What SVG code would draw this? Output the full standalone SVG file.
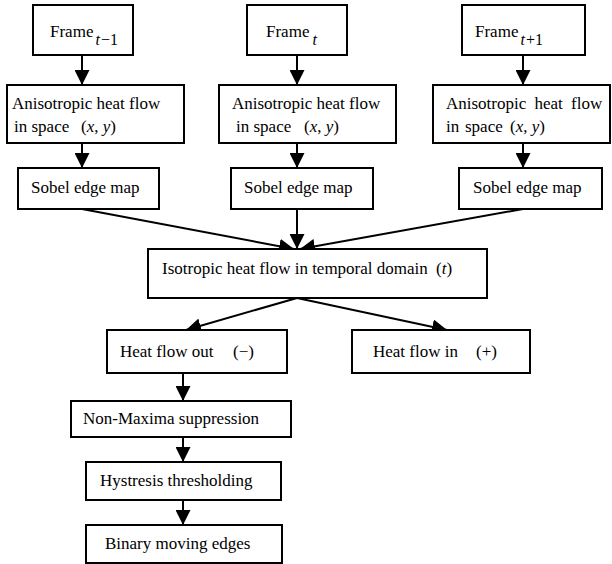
<svg xmlns="http://www.w3.org/2000/svg" width="612" height="564" viewBox="0 0 612 564">
  <style>
    .box { fill: #ffffff; stroke: #000000; stroke-width: 2; }
    .lbl { font-family: "Liberation Serif", "Times New Roman", serif; font-size: 17px; fill: #000000; }
    .it { font-style: italic; }
    .sub { font-size: 16px; }
    .edge { stroke: #000000; stroke-width: 2; fill: none; marker-end: url(#head); }
  </style>
  <defs>
    <marker id="head" markerUnits="userSpaceOnUse" markerWidth="15" markerHeight="15" refX="15" refY="7.5" orient="auto">
      <path d="M0,0 L15,7.5 L0,15 Z" fill="#000000"/>
    </marker>
  </defs>

  <rect width="612" height="564" fill="#ffffff"/>

  <!-- connectors -->
  <g id="connectors">
    <line class="edge" x1="82" y1="55" x2="82" y2="85"/>
    <line class="edge" x1="297" y1="55" x2="297" y2="85"/>
    <line class="edge" x1="523" y1="55" x2="523" y2="85"/>
    <line class="edge" x1="82" y1="143" x2="82" y2="168"/>
    <line class="edge" x1="297" y1="143" x2="297" y2="168"/>
    <line class="edge" x1="523" y1="143" x2="523" y2="168"/>
    <line class="edge" x1="82" y1="209" x2="294" y2="249"/>
    <line class="edge" x1="297" y1="209" x2="297" y2="249"/>
    <line class="edge" x1="523" y1="209" x2="300" y2="249"/>
    <line class="edge" x1="297" y1="298" x2="186" y2="330"/>
    <line class="edge" x1="297" y1="298" x2="447" y2="330"/>
    <line class="edge" x1="183" y1="373" x2="183" y2="401"/>
    <line class="edge" x1="183" y1="437" x2="183" y2="462"/>
    <line class="edge" x1="183" y1="500" x2="183" y2="525"/>
  </g>

  <!-- input frames -->
  <g id="frame-prev">
    <rect class="box" x="33" y="5" width="100" height="50"/>
    <text class="lbl" x="50" y="37">Frame<tspan class="sub it" dy="8" dx="2">t</tspan><tspan class="sub" dx="1">−1</tspan></text>
  </g>
  <g id="frame-cur">
    <rect class="box" x="247" y="5" width="100" height="50"/>
    <text class="lbl" x="266" y="37">Frame<tspan class="sub it" dy="8" dx="3">t</tspan></text>
  </g>
  <g id="frame-next">
    <rect class="box" x="462" y="5" width="123" height="50"/>
    <text class="lbl" x="475" y="37">Frame<tspan class="sub it" dy="8" dx="2">t</tspan><tspan class="sub" dx="1">+1</tspan></text>
  </g>

  <!-- spatial diffusion -->
  <g id="aniso-prev">
    <rect class="box" x="7" y="85" width="177" height="58"/>
    <text class="lbl" x="12" y="109">Anisotropic heat flow</text>
    <text class="lbl" x="14" y="132">in space<tspan x="81">(</tspan><tspan class="it">x</tspan>, <tspan class="it">y</tspan>)</text>
  </g>
  <g id="aniso-cur">
    <rect class="box" x="219" y="85" width="177" height="58"/>
    <text class="lbl" x="232" y="109">Anisotropic heat flow</text>
    <text class="lbl" x="236" y="132">in space<tspan x="304">(</tspan><tspan class="it">x</tspan>, <tspan class="it">y</tspan>)</text>
  </g>
  <g id="aniso-next">
    <rect class="box" x="433" y="85" width="177" height="58"/>
    <text class="lbl" x="446" y="109" word-spacing="4">Anisotropic heat flow</text>
    <text class="lbl" x="446" y="132">in<tspan x="465">space</tspan><tspan x="510">(</tspan><tspan class="it">x</tspan>, <tspan class="it">y</tspan>)</text>
  </g>

  <!-- edge maps -->
  <g id="sobel-prev">
    <rect class="box" x="18" y="168" width="141" height="41"/>
    <text class="lbl" x="31" y="193">Sobel edge map</text>
  </g>
  <g id="sobel-cur">
    <rect class="box" x="231" y="168" width="142" height="41"/>
    <text class="lbl" x="244" y="193">Sobel edge map</text>
  </g>
  <g id="sobel-next">
    <rect class="box" x="459" y="168" width="143" height="41"/>
    <text class="lbl" x="473" y="193">Sobel edge map</text>
  </g>

  <!-- temporal diffusion -->
  <g id="isotropic">
    <rect class="box" x="148" y="249" width="339" height="49"/>
    <text class="lbl" x="162" y="274">Isotropic heat flow in temporal domain<tspan x="436">(</tspan><tspan class="it">t</tspan>)</text>
  </g>

  <g id="heat-out">
    <rect class="box" x="107" y="330" width="180" height="43"/>
    <text class="lbl" x="120" y="357">Heat flow out<tspan x="233">(−)</tspan></text>
  </g>
  <g id="heat-in">
    <rect class="box" x="352" y="330" width="178" height="43"/>
    <text class="lbl" x="373" y="357">Heat flow in<tspan x="476">(+)</tspan></text>
  </g>

  <!-- post-processing chain -->
  <g id="nms">
    <rect class="box" x="71" y="401" width="220" height="36"/>
    <text class="lbl" x="83" y="424">Non-Maxima suppression</text>
  </g>
  <g id="hysteresis">
    <rect class="box" x="86" y="462" width="195" height="38"/>
    <text class="lbl" x="100" y="486">Hystresis thresholding</text>
  </g>
  <g id="binary">
    <rect class="box" x="86" y="525" width="196" height="38"/>
    <text class="lbl" x="105" y="549">Binary moving edges</text>
  </g>
</svg>
